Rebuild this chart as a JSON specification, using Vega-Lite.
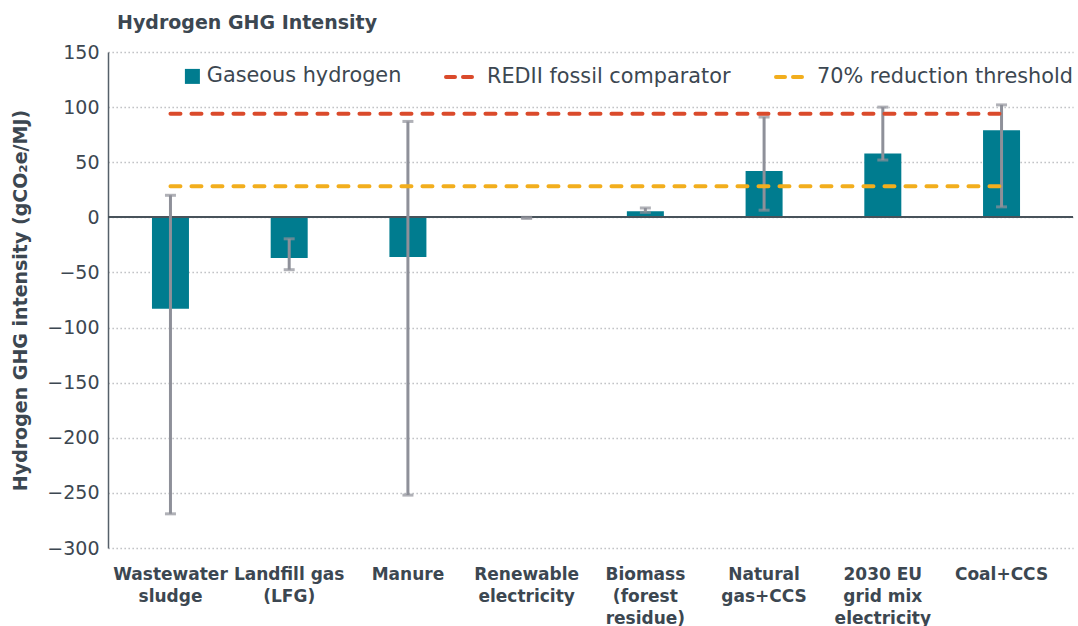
{
  "$schema": "https://vega.github.io/schema/vega-lite/v6.json",
  "width": 965,
  "height": 496,
  "autosize": {"type": "none"},
  "padding": {"left": 108, "top": 52, "right": 5, "bottom": 78},
  "background": "white",
  "config": {
    "font": "DejaVu Sans",
    "view": {"stroke": null},
    "axisY": {
      "labelFontSize": 19, "labelColor": "#3c4751", "labelPadding": 9, "ticks": false,
      "domainColor": "#56606a", "domainWidth": 1.5,
      "grid": true, "gridDash": [1.3, 2.7], "gridColor": "#b3b6ba", "gridWidth": 1.3,
      "titleFontSize": 19, "titleFontWeight": "bold", "titleColor": "#3c4751", "titlePadding": 16
    },
    "axisX": {
      "domain": false, "ticks": false, "grid": false, "labelAngle": 0,
      "labelFontSize": 17, "labelFontWeight": "bold", "labelColor": "#3c4751",
      "labelLineHeight": 22, "labelPadding": 18, "labelLimit": 200, "labelOverlap": false, "labelBound": false
    }
  },
  "title": {
    "text": "Hydrogen GHG Intensity", "anchor": "start", "frame": "group", "dx": 9, "offset": 10,
    "fontSize": 19, "fontWeight": "bold", "color": "#3c4751", "font": "DejaVu Sans"
  },
  "datasets": {
    "bars": [
      {"category": "Wastewater\nsludge", "value": -83, "low": -269, "high": 20},
      {"category": "Landfill gas\n(LFG)", "value": -37, "low": -47.5, "high": -19.5},
      {"category": "Manure", "value": -36, "low": -252, "high": 87},
      {"category": "Renewable\nelectricity", "value": 0, "low": -1, "high": 0},
      {"category": "Biomass\n(forest\nresidue)", "value": 5.5, "low": 4.5, "high": 8.5},
      {"category": "Natural\ngas+CCS", "value": 42, "low": 6.5, "high": 91},
      {"category": "2030 EU\ngrid mix\nelectricity", "value": 58, "low": 52, "high": 100},
      {"category": "Coal+CCS", "value": 79, "low": 9.5, "high": 102}
    ],
    "lines": [
      {"category": "Wastewater\nsludge", "series": "REDII fossil comparator", "value": 94},
      {"category": "Landfill gas\n(LFG)", "series": "REDII fossil comparator", "value": 94},
      {"category": "Manure", "series": "REDII fossil comparator", "value": 94},
      {"category": "Renewable\nelectricity", "series": "REDII fossil comparator", "value": 94},
      {"category": "Biomass\n(forest\nresidue)", "series": "REDII fossil comparator", "value": 94},
      {"category": "Natural\ngas+CCS", "series": "REDII fossil comparator", "value": 94},
      {"category": "2030 EU\ngrid mix\nelectricity", "series": "REDII fossil comparator", "value": 94},
      {"category": "Coal+CCS", "series": "REDII fossil comparator", "value": 94},
      {"category": "Wastewater\nsludge", "series": "70% reduction threshold", "value": 28.2},
      {"category": "Landfill gas\n(LFG)", "series": "70% reduction threshold", "value": 28.2},
      {"category": "Manure", "series": "70% reduction threshold", "value": 28.2},
      {"category": "Renewable\nelectricity", "series": "70% reduction threshold", "value": 28.2},
      {"category": "Biomass\n(forest\nresidue)", "series": "70% reduction threshold", "value": 28.2},
      {"category": "Natural\ngas+CCS", "series": "70% reduction threshold", "value": 28.2},
      {"category": "2030 EU\ngrid mix\nelectricity", "series": "70% reduction threshold", "value": 28.2},
      {"category": "Coal+CCS", "series": "70% reduction threshold", "value": 28.2}
    ]
  },
  "layer": [
    {
      "data": {"name": "bars"},
      "mark": {"type": "bar", "size": 37},
      "encoding": {
        "x": {
          "field": "category", "type": "nominal", "title": null,
          "scale": {
            "domain": ["Wastewater\nsludge", "Landfill gas\n(LFG)", "Manure", "Renewable\nelectricity", "Biomass\n(forest\nresidue)", "Natural\ngas+CCS", "2030 EU\ngrid mix\nelectricity", "Coal+CCS"],
            "paddingInner": 0, "paddingOuter": 0.064, "align": 0.204
          },
          "axis": {"labelExpr": "split(datum.label, '\\n')"}
        },
        "y": {
          "field": "value", "type": "quantitative", "title": "Hydrogen GHG intensity (gCO₂e/MJ)",
          "scale": {"domain": [-300, 150], "nice": false, "zero": false},
          "axis": {"values": [-300, -250, -200, -150, -100, -50, 0, 50, 100, 150]}
        },
        "fill": {
          "datum": "Gaseous hydrogen", "type": "nominal",
          "scale": {"range": ["#007C8F"]},
          "legend": {
            "orient": "none", "legendX": 74, "legendY": 14, "direction": "horizontal", "title": null,
            "symbolType": "square", "symbolSize": 225, "symbolStrokeWidth": 0,
            "labelFontSize": 20.8, "labelColor": "#3c4751", "labelOffset": 4, "labelLimit": 400
          }
        }
      }
    },
    {
      "data": {"name": "bars"},
      "mark": {"type": "rule", "color": "#48535b", "strokeWidth": 1.5},
      "encoding": {
        "y": {"datum": 0, "type": "quantitative", "title": "Hydrogen GHG intensity (gCO₂e/MJ)", "scale": {"domain": [-300, 150], "nice": false, "zero": false}}
      }
    },
    {
      "data": {"name": "bars"},
      "mark": {"type": "rule", "color": "#8E9099", "strokeWidth": 3},
      "encoding": {
        "x": {"field": "category", "type": "nominal", "title": null},
        "y": {"field": "low", "type": "quantitative", "title": "Hydrogen GHG intensity (gCO₂e/MJ)", "scale": {"domain": [-300, 150], "nice": false, "zero": false}},
        "y2": {"field": "high"}
      }
    },
    {
      "data": {"name": "bars"},
      "mark": {"type": "tick", "color": "#8E9099", "size": 11, "thickness": 3},
      "encoding": {
        "x": {"field": "category", "type": "nominal", "title": null},
        "y": {"field": "low", "type": "quantitative", "title": "Hydrogen GHG intensity (gCO₂e/MJ)", "scale": {"domain": [-300, 150], "nice": false, "zero": false}}
      }
    },
    {
      "data": {"name": "bars"},
      "mark": {"type": "tick", "color": "#8E9099", "size": 11, "thickness": 3},
      "encoding": {
        "x": {"field": "category", "type": "nominal", "title": null},
        "y": {"field": "high", "type": "quantitative", "title": "Hydrogen GHG intensity (gCO₂e/MJ)", "scale": {"domain": [-300, 150], "nice": false, "zero": false}}
      }
    },
    {
      "data": {"name": "lines"},
      "mark": {"type": "line", "strokeWidth": 4, "strokeDash": [10, 11], "strokeCap": "round"},
      "encoding": {
        "x": {"field": "category", "type": "nominal", "title": null},
        "y": {"field": "value", "type": "quantitative", "title": "Hydrogen GHG intensity (gCO₂e/MJ)", "scale": {"domain": [-300, 150], "nice": false, "zero": false}},
        "stroke": {
          "field": "series", "type": "nominal",
          "scale": {"domain": ["REDII fossil comparator", "70% reduction threshold"], "range": ["#DA4A2B", "#F2AE1D"]},
          "legend": {
            "orient": "none", "legendX": 336, "legendY": 10, "direction": "horizontal", "title": null,
            "symbolType": "stroke", "symbolSize": 676, "symbolStrokeWidth": 4, "symbolDash": [9, 8],
            "labelFontSize": 20.8, "labelColor": "#3c4751", "labelOffset": 13, "labelLimit": 400, "columnPadding": 37,
            "encode": {"symbols": {"update": {"strokeCap": {"value": "round"}}}}
          }
        }
      }
    }
  ]
}
